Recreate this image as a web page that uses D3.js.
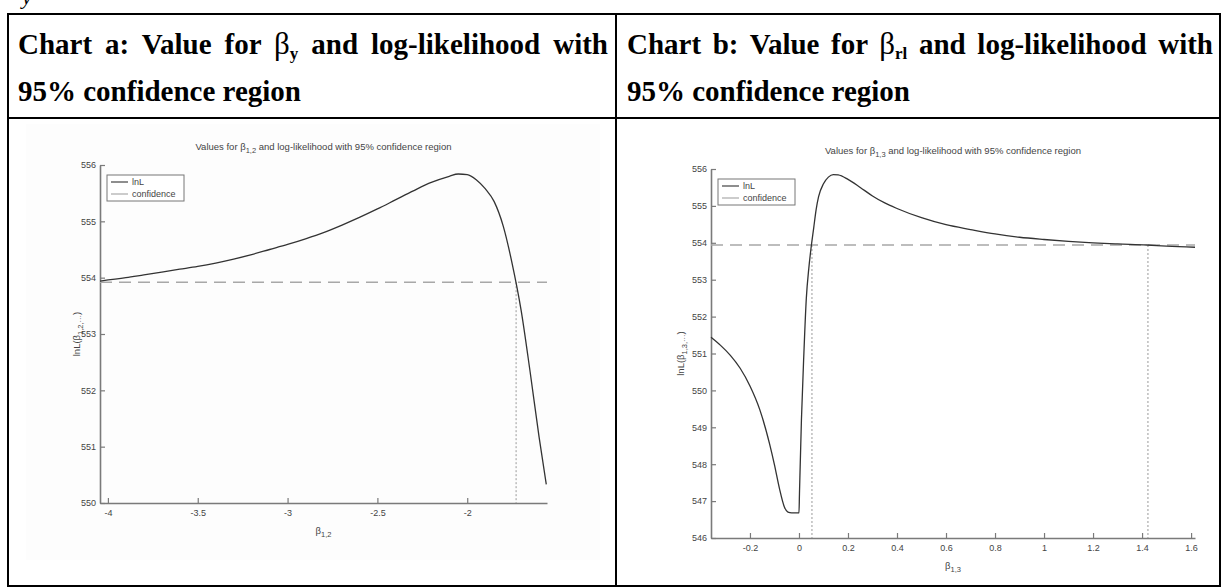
<!DOCTYPE html>
<html><head><meta charset="utf-8">
<script src="https://cdn.jsdelivr.net/npm/d3@7"></script>
<style>body{margin:0;background:#fff;} svg{display:block}</style>
</head><body><svg id="c" width="1223" height="588"></svg>
<script>
// ---- Chart a data: beta_{1,2} vs log-likelihood ----
const betaA = [-4.044,-3.9,-3.8,-3.7,-3.6,-3.5,-3.4,-3.3,-3.2,-3.1,-3.0,-2.9,-2.8,-2.7,-2.6,-2.5,-2.4,-2.3,-2.2,-2.1,-2.05,-2.0,-1.95,-1.9,-1.85,-1.8,-1.75,-1.7,-1.65,-1.6,-1.56];
const lnLA  = [553.94,554.00,554.05,554.10,554.15,554.20,554.26,554.33,554.41,554.50,554.59,554.69,554.80,554.93,555.07,555.22,555.38,555.54,555.69,555.80,555.84,555.83,555.74,555.58,555.35,554.92,554.25,553.42,552.33,551.17,550.33];
const confA = 553.92;
const ciA = [-1.728];
const xTicksA = [-4,-3.5,-3,-2.5,-2];
const yTicksA = [550,551,552,553,554,555,556];

// ---- Chart b data: beta_{1,3} vs log-likelihood ----
const betaB = [-0.359,-0.32,-0.28,-0.24,-0.2,-0.16,-0.12,-0.1,-0.08,-0.06,-0.045,-0.03,-0.015,0.0,0.002,0.01,0.02,0.03,0.04,0.05,0.06,0.07,0.08,0.1,0.12,0.14,0.16,0.2,0.25,0.3,0.35,0.4,0.5,0.6,0.7,0.8,0.9,1.0,1.1,1.2,1.3,1.42,1.5,1.616];
const lnLB  = [551.44,551.22,550.95,550.60,550.12,549.48,548.55,547.98,547.35,546.85,546.70,546.68,546.68,546.68,547.20,549.20,551.00,552.50,553.30,553.90,554.40,554.90,555.25,555.60,555.78,555.85,555.84,555.72,555.50,555.27,555.08,554.93,554.68,554.49,554.36,554.24,554.15,554.09,554.04,554.00,553.97,553.94,553.91,553.88];
const confB = 553.94;
const ciB = [0.053, 1.424];
const xTicksB = [-0.2,0,0.2,0.4,0.6,0.8,1,1.2,1.4,1.6];
const yTicksB = [546,547,548,549,550,551,552,553,554,555,556];

const svg = d3.select('#c');

// faint figure background (left screenshot)
svg.append('rect').attr('x',26).attr('y',124).attr('width',574).attr('height',436).attr('fill','#fdfdfd');

// ---- table ----
const tbl = svg.append('g').attr('stroke','#000').attr('stroke-width',2).attr('fill','none');
tbl.append('rect').attr('x',8).attr('y',14).attr('width',1212).attr('height',572);
tbl.append('line').attr('x1',8).attr('x2',1220).attr('y1',118).attr('y2',118);
tbl.append('line').attr('x1',616).attr('x2',616).attr('y1',14).attr('y2',586);

// fragment of text above table
svg.append('text').attr('x',22).attr('y',4).attr('font-family','Liberation Serif').attr('font-style','italic')
  .attr('font-size',22).attr('fill','#000').text('y');

function header(x0, x1, yb, parts){
  const t = svg.append('text').attr('x',x0).attr('y',yb)
    .attr('font-family','Liberation Serif, Times New Roman, serif').attr('font-weight','bold')
    .attr('font-size',29).attr('fill','#000');
  let spaces = 0;
  parts.forEach(p=>{
    const ts = t.append('tspan').text(p.t);
    if(p.dy) ts.attr('dy',p.dy);
    if(p.fs) ts.attr('font-size',p.fs);
    if(p.fw) ts.attr('font-weight',p.fw);
    spaces += (p.t.match(/ /g)||[]).length;
  });
  if(x1!==null){
    const w = t.node().getComputedTextLength();
    t.style('word-spacing', ((x1-x0-w)/spaces)+'px');
  }
}
header(18, 608, 54, [{t:'Chart a: Value for '},{t:'β',fs:31,fw:'normal'},{t:'y',fs:17,dy:5},{t:' and log-likelihood with',dy:-5}]);
header(18, null, 101, [{t:'95% confidence region'}]);
header(627, 1213, 54, [{t:'Chart b: Value for '},{t:'β',fs:31,fw:'normal'},{t:'rl',fs:17,dy:5},{t:' and log-likelihood with',dy:-5}]);
header(627, null, 101, [{t:'95% confidence region'}]);

const AX = '#7a7a7a', TX = '#444';
function chart(o){
  const g = svg.append('g');
  const x = d3.scaleLinear().domain(o.xd).range(o.xr);
  const y = d3.scaleLinear().domain(o.yd).range(o.yr);
  const ya = g.append('g').attr('transform',`translate(${o.xr[0]},0)`)
    .call(d3.axisLeft(y).tickValues(o.yt).tickSizeInner(-5).tickSizeOuter(0).tickPadding(4).tickFormat(d=>String(d)));
  const xa = g.append('g').attr('transform',`translate(0,${o.yr[0]})`)
    .call(d3.axisBottom(x).tickValues(o.xt).tickSizeInner(-5).tickSizeOuter(0).tickPadding(7).tickFormat(d=>String(d)));
  [ya,xa].forEach(a=>{
    a.select('.domain').attr('stroke',AX).attr('stroke-width',1.6);
    a.selectAll('.tick line').attr('stroke',AX).attr('stroke-width',1.2);
    a.selectAll('.tick text').attr('fill',TX).attr('font-family','Liberation Sans, Arial, sans-serif').attr('font-size',9);
  });
  g.append('line').attr('x1',o.xr[0]).attr('x2',o.xr[1]).attr('y1',y(o.conf)).attr('y2',y(o.conf))
    .attr('stroke','#a8a8a8').attr('stroke-width',1.5).attr('stroke-dasharray','12,7');
  o.ci.forEach(c=>{
    g.append('line').attr('x1',x(c)).attr('x2',x(c)).attr('y1',y(o.conf)).attr('y2',o.yr[0])
      .attr('stroke','#9a9a9a').attr('stroke-width',1).attr('stroke-dasharray','2,2');
  });
  g.append('path').datum(o.bx.map((b,i)=>[b,o.ly[i]]))
    .attr('fill','none').attr('stroke','#333').attr('stroke-width',1.3)
    .attr('d', d3.line().x(d=>x(d[0])).y(d=>y(d[1])).curve(d3.curveMonotoneX));
  const cx = (o.xr[0]+o.xr[1])/2;
  const t = g.append('text').attr('x',cx).attr('y',o.yr[1]-15).attr('text-anchor','middle')
    .attr('font-family','Liberation Sans, Arial, sans-serif').attr('font-size',9.5).attr('fill',TX);
  t.append('tspan').text('Values for β');
  t.append('tspan').attr('font-size',7.5).attr('dy',3).text(o.sub);
  t.append('tspan').attr('dy',-3).text(' and log-likelihood with 95% confidence region');
  const xl = g.append('text').attr('x',cx).attr('y',o.yr[0]+31).attr('text-anchor','middle')
    .attr('font-family','Liberation Sans, Arial, sans-serif').attr('font-size',9.5).attr('fill',TX);
  xl.append('tspan').text('β');
  xl.append('tspan').attr('font-size',7.5).attr('dy',3).text(o.sub);
  const cy = (o.yr[0]+o.yr[1])/2;
  const yl = g.append('text').attr('transform',`translate(${o.ylx},${cy}) rotate(-90)`).attr('text-anchor','middle')
    .attr('font-family','Liberation Sans, Arial, sans-serif').attr('font-size',9.5).attr('fill',TX);
  yl.append('tspan').text('lnL(β');
  yl.append('tspan').attr('font-size',7.5).attr('dy',3).text(o.sub+',···');
  yl.append('tspan').attr('dy',-3).text(')');
  const lx = o.xr[0]+7, ly = o.yr[1]+10;
  g.append('rect').attr('x',lx).attr('y',ly).attr('width',77).attr('height',26)
    .attr('fill','#fff').attr('stroke','#777').attr('stroke-width',1);
  [['lnL','#444'],['confidence','#aaa']].forEach((e,i)=>{
    const yy = ly+7+i*12;
    g.append('line').attr('x1',lx+4).attr('x2',lx+21).attr('y1',yy).attr('y2',yy).attr('stroke',e[1]).attr('stroke-width',1.2);
    g.append('text').attr('x',lx+25).attr('y',yy+3).attr('font-family','Liberation Sans, Arial, sans-serif')
      .attr('font-size',9).attr('fill',TX).text(e[0]);
  });
}

chart({xd:[-4.044,-1.556], xr:[100,547], yd:[550,556], yr:[503,165], xt:xTicksA, yt:yTicksA,
  bx:betaA, ly:lnLA, conf:confA, ci:ciA, sub:'1,2', ylx:80});
chart({xd:[-0.359,1.616], xr:[711,1195], yd:[546,556], yr:[538,169], xt:xTicksB, yt:yTicksB,
  bx:betaB, ly:lnLB, conf:confB, ci:ciB, sub:'1,3', ylx:684});
</script></body></html>
